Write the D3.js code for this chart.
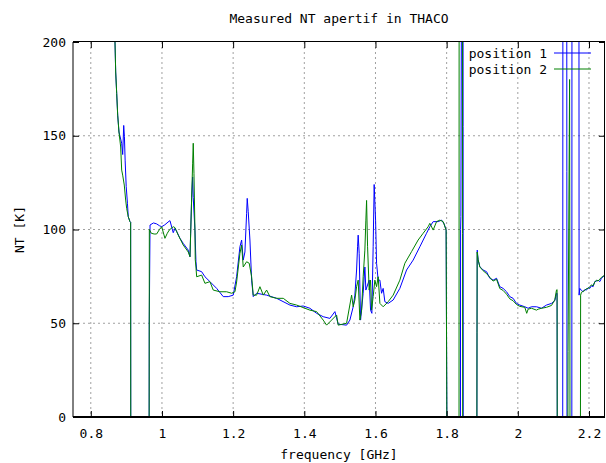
<!DOCTYPE html>
<html><head><meta charset="utf-8">
<script src="https://cdn.jsdelivr.net/npm/d3@7"></script>
<style>
body{margin:0;background:#fff}
svg text{font-family:"DejaVu Sans Mono",monospace;font-size:13px;fill:#000}
</style>
</head><body><svg id="c" width="606" height="463"></svg>
<script>
const chartTitle = "Measured NT apertif in THACO";
const xLabel = "frequency [GHz]";
const yLabel = "NT [K]";
const xTicks = [0.8, 1, 1.2, 1.4, 1.6, 1.8, 2, 2.2];
const yTicks = [0, 50, 100, 150, 200];
const seriesNames = ["position 1", "position 2"];
const seriesColors = ["#0000ff", "#008000"];

// position 1 (blue)
const freq1 = [0.858,0.866,0.868,0.870,0.8728,0.8756,0.8792,0.8868,0.8896,0.8925,0.8945,0.8965,0.8995,0.9030,0.9053,0.9101,0.9120,0.9123,
0.9640,0.9643,0.9665,0.976,0.985,0.993,0.9992,1.008,1.0205,1.0225,1.0317,1.0365,1.0413,1.0506,1.0598,1.0739,1.0787,
1.0834,1.0862,1.0879,1.0927,1.0955,1.0975,1.1115,1.1208,1.1348,1.1537,1.1722,1.1862,1.2003,1.2098,1.2191,1.2239,1.2284,1.2331,
1.2379,1.2396,1.2424,1.2472,1.2520,1.2565,1.2660,1.2941,1.3222,1.3596,1.3784,1.3969,1.4157,1.4346,1.4531,1.4719,1.4860,1.4952,
1.5188,1.5281,1.5374,1.5421,1.5469,1.5497,1.5514,1.5542,1.5581,1.5654,1.5702,1.5730,1.5823,1.5862,1.5899,1.5935,1.5963,1.6003,
1.6031,1.6076,1.6124,1.6171,1.6216,1.6264,1.6357,1.6497,1.6685,1.6874,1.7059,1.7247,1.7435,1.7528,1.7621,1.7761,1.7857,1.7930,
1.7985,1.8006,1.8388,1.8392,1.8400,1.8420,1.8460,1.8463,1.8466,1.8850,1.8853,1.8860,1.8885,1.8933,1.9025,1.9121,1.9213,1.9306,
1.9402,1.9494,1.9587,1.9683,1.9775,1.9868,1.9963,2.0056,2.0197,2.0289,2.0385,2.0525,2.0666,2.0806,2.0947,2.1039,2.1087,2.1103,
2.1108,2.1262,2.1267,2.1375,2.1378,2.1382,2.1518,2.1522,2.1717,2.1722,2.1742,2.1789,2.1834,2.1882,2.1930,2.1975,2.2022,2.2070,
2.2115,2.2163,2.2211,2.2256,2.2303,2.2350,2.2396,2.2450];
const nt1 = [300,212,200,184,172.6,161,152,146,140,155.5,149.5,137,123,114,106.8,104.2,103.8,0,
0,50,102.4,103.5,103,102,101.5,102.5,104.5,104.7,98.3,100.6,99,95.3,92.6,89,85.5,
116.6,128,117,99.7,83,78.4,77.5,74.8,72.2,68.6,64.2,64.2,65,74.8,90.8,94.4,83.7,88,
108.6,116.6,109.5,94.4,73,64.2,66,65,63.3,59.7,58.8,59.2,58,55.3,53.5,52.6,56.2,49.5,
49,51.7,58.8,65,78.4,90.8,97,87.3,51.7,66,80,67.7,73,57,55.3,90.8,124,105,
82,73,73,66,68.6,61.5,60.6,62.4,68.6,78.4,83.7,90.8,98,101.5,104.2,104.2,105,103,
99.7,0,0,100,107,260,260,155,0,0,45,89,83.7,80.2,78.4,77.5,74,73,
74,69.5,68.6,66.8,64.2,63.3,60.6,59.7,58.8,58,58.8,58.8,58,59.7,60.6,62,66,66,
0,0,260,260,131,0,0,260,260,65,68.6,67.5,66.8,68,67.7,69,68.6,70,
69.5,72.2,72.5,73,72.2,74,74.8,75.7];

// position 2 (green)
const freq2 = [0.858,0.866,0.868,0.870,0.8728,0.8756,0.8792,0.8840,0.8868,0.8896,0.8941,0.8980,0.9008,0.9053,0.9101,0.9120,0.9123,
0.9640,0.9645,0.9700,0.9780,0.9850,0.9930,0.9992,1.0084,1.0150,1.0205,1.0317,1.0365,1.0458,1.0598,1.0739,1.0787,
1.0807,1.0834,1.0862,1.0879,1.0899,1.0927,1.0935,1.0955,1.0975,1.1115,1.1208,1.1348,1.1441,1.1629,1.1817,1.1958,1.2051,
1.2098,1.2191,1.2239,1.2284,1.2379,1.2452,1.2520,1.2565,1.2660,1.2753,1.2848,1.2941,1.3034,1.3222,1.3409,1.3596,1.3784,
1.4157,1.4346,1.4531,1.4626,1.4767,1.4907,1.4952,1.5188,1.5329,1.5374,1.5421,1.5469,1.5514,1.5562,1.5610,1.5654,1.5702,
1.5730,1.5750,1.5778,1.5823,1.5862,1.5890,1.5935,1.5983,1.6031,1.6076,1.6124,1.6216,1.6357,1.6497,1.6685,1.6826,1.7014,
1.7199,1.7340,1.7480,1.7528,1.7621,1.7716,1.7809,1.7902,1.7985,1.8006,1.8348,1.8351,1.8444,1.8447,1.8450,
1.8850,1.8857,1.8885,1.8933,1.9025,1.9121,1.9213,1.9306,1.9402,1.9494,1.9587,1.9683,1.9775,1.9868,1.9963,2.0056,2.0197,
2.0250,2.0289,2.0385,2.0525,2.0570,2.0666,2.0806,2.0947,2.1039,2.1087,2.1103,2.1107,2.1408,2.1412,2.1455,2.1462,2.1466,
2.1760,2.1765,2.1789,2.1834,2.1882,2.1930,2.1975,2.2022,2.2070,2.2115,2.2163,2.2211,2.2256,2.2303,2.2350,2.2396,2.2450];
const nt2 = [300,212,200,184,172.6,161,152,144,131.7,129,123.7,115.7,111.3,106.8,104.2,103.8,0,
0,100,98,97.6,97.6,100,101.5,95.3,98,99.7,101.5,101,97,91.7,88,85.5,
98,117,135,146,130,99.7,84,80,74.8,75.7,71.3,72.2,67.7,66.8,66.8,66,66.8,
72,87.3,91.7,80,82.8,82,74.8,65,65,69.5,65,67.7,64.2,63.3,63.3,60.6,59.7,
57,56.2,51.7,49,51.7,54.4,49,50,65,58.8,62.4,69.5,73,51.7,57,74.8,89,
105,115.5,90.8,67.7,73,57,64.2,73,69.5,74.8,60.6,58.8,61.5,65,73,82,88.2,
94.4,98,101.5,103.3,99.7,104.2,105,104.2,99.7,0,0,260,260,98,0,
0,88,84,80,78,76.5,74.5,72.5,73.5,68.5,67.5,65.5,63,62,60,59,58.5,
55.3,57.5,58,57,57.5,58,58.5,59.5,62.5,67.7,68,0,0,35,180,80,0,
0,65,66.5,67,67.5,68.5,68.5,69.5,70.5,70,72,73,72.5,73.5,74.5,75,76];

const L = 73, R = 605, T = 42, B = 417;
const svg = d3.select("#c");
const x = d3.scaleLinear().domain([0.75, 2.245]).range([L, R]);
const y = d3.scaleLinear().domain([0, 200]).range([B, T]);

// grid
const grid = svg.append("g").attr("stroke", "#a0a0a0").attr("stroke-width", 1).attr("stroke-dasharray", "2,3");
grid.selectAll(".gx").data(xTicks).enter().append("line")
  .attr("x1", d => x(d)).attr("x2", d => x(d)).attr("y1", T).attr("y2", B);
grid.selectAll(".gy").data(yTicks.filter(d => d > 0 && d < 200)).enter().append("line")
  .attr("x1", L).attr("x2", R).attr("y1", d => y(d)).attr("y2", d => y(d));

// clip
svg.append("clipPath").attr("id", "clip").append("rect")
  .attr("x", L).attr("y", T).attr("width", R - L).attr("height", B - T);

const line = d3.line().x(d => x(d[0])).y(d => y(d[1]));
const series = [d3.zip(freq1, nt1), d3.zip(freq2, nt2)];
const gData = svg.append("g").attr("clip-path", "url(#clip)");
series.forEach((s, i) => {
  gData.append("path").datum(s).attr("d", line)
    .attr("fill", "none").attr("stroke", seriesColors[i]).attr("stroke-width", 1);
});

// axes (ticks inward, mirrored)
const fmt = d => String(d);
const ax = svg.append("g").attr("transform", `translate(0,${B})`)
  .call(d3.axisBottom(x).tickValues(xTicks).tickSize(-6).tickPadding(12).tickFormat(fmt));
const axT = svg.append("g").attr("transform", `translate(0,${T})`)
  .call(d3.axisTop(x).tickValues(xTicks).tickSize(-6).tickFormat(""));
const ay = svg.append("g").attr("transform", `translate(${L},0)`)
  .call(d3.axisLeft(y).tickValues(yTicks).tickSize(-6).tickPadding(7).tickFormat(fmt));
const ayR = svg.append("g").attr("transform", `translate(${R},0)`)
  .call(d3.axisRight(y).tickValues(yTicks).tickSize(-6).tickFormat(""));
[ax, axT, ay, ayR].forEach(g => {
  g.select(".domain").remove();
  g.attr("font-family", null).attr("font-size", null);
  g.selectAll("line").attr("stroke", "#000");
});

// border
const bd = svg.append("g").attr("stroke", "#000");
bd.append("line").attr("x1", L).attr("x2", R).attr("y1", T - 0.5).attr("y2", T - 0.5).attr("stroke-width", 1);
bd.append("line").attr("x1", L).attr("x2", R).attr("y1", B).attr("y2", B).attr("stroke-width", 2);
bd.append("line").attr("x1", L).attr("x2", L).attr("y1", T).attr("y2", B).attr("stroke-width", 1);
bd.append("line").attr("x1", R - 0.5).attr("x2", R - 0.5).attr("y1", T).attr("y2", B).attr("stroke-width", 1);

// title & labels
svg.append("text").attr("x", (L + R) / 2).attr("y", 23).attr("text-anchor", "middle").text(chartTitle);
svg.append("text").attr("x", (L + R) / 2).attr("y", 459).attr("text-anchor", "middle").text(xLabel);
svg.append("text").attr("transform", `translate(24,${(T + B) / 2}) rotate(-90)`).attr("text-anchor", "middle").text(yLabel);

// legend
const leg = svg.append("g");
seriesNames.forEach((n, i) => {
  const yy = 53 + i * 16;
  leg.append("text").attr("x", 547).attr("y", yy + 4.5).attr("text-anchor", "end").text(n);
  leg.append("line").attr("x1", 554).attr("x2", 591).attr("y1", yy).attr("y2", yy)
    .attr("stroke", seriesColors[i]).attr("stroke-width", 1);
});
</script>
</body></html>
